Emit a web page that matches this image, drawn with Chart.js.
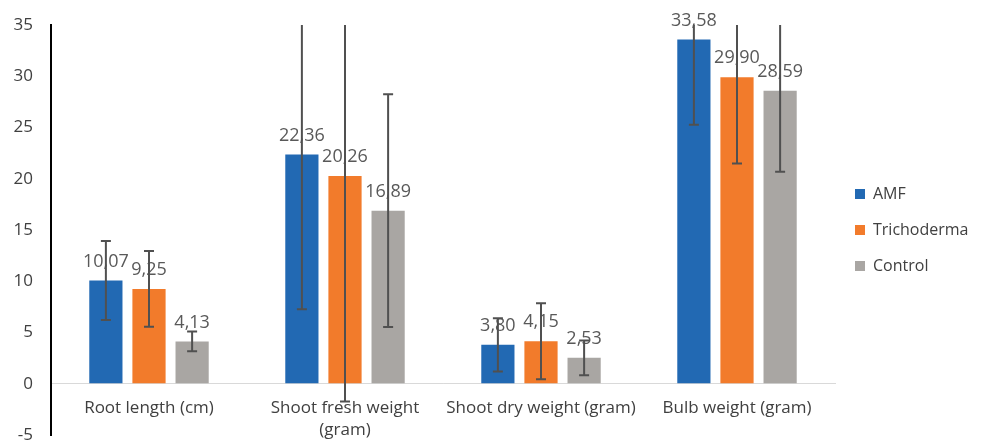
<!DOCTYPE html>
<html>
<head>
<meta charset="utf-8">
<script src="https://cdn.jsdelivr.net/npm/chart.js@4.4.1/dist/chart.umd.min.js"></script>
<style>
  html, body { margin: 0; padding: 0; background: #fff; }
  #wrap { width: 981px; height: 443px; }
</style>
</head>
<body>
<div id="wrap"><canvas id="chart"></canvas></div>
<script>
// data
const categories = ['Root length (cm)', ['Shoot fresh weight', '(gram)'], 'Shoot dry weight (gram)', 'Bulb weight (gram)'];
const seriesNames = ['AMF', 'Trichoderma', 'Control'];
const amfValues = [10.07, 22.36, 3.80, 33.58];
const trichoValues = [9.25, 20.26, 4.15, 29.90];
const controlValues = [4.13, 16.89, 2.53, 28.59];
const amfErrors = [3.85, 15.1, 2.6, 8.3];
const trichoErrors = [3.7, 22.0, 3.7, 8.4];
const controlErrors = [0.97, 11.35, 1.7, 7.9];
const yTicks = [-5, 0, 5, 10, 15, 20, 25, 30, 35];

const colors = { amf: '#2269b3', tricho: '#f27b2b', control: '#a9a6a3', text: '#404040', label: '#595959', err: '#505050' };
const FONT = "'Open Sans', sans-serif";

Chart.defaults.font.family = FONT;
Chart.defaults.font.size = 16;
Chart.defaults.color = colors.text;

const errorSets = [amfErrors, trichoErrors, controlErrors];

// labels above bars plus the error bars, drawn from the data arrays
const barExtras = {
  id: 'barExtras',
  beforeInit(chart) {
    // fixed legend width so the plot ends where the original does
    const lg = chart.legend;
    if (lg) {
      const fit = lg.fit;
      lg.fit = function () { fit.call(this); this.width = 146; };
    }
  },
  afterDatasetsDraw(chart) {
    const ctx = chart.ctx;
    const yScale = chart.scales.y;
    const area = chart.chartArea;

    ctx.save();
    ctx.font = '18px ' + FONT;
    ctx.fillStyle = colors.label;
    ctx.textAlign = 'center';
    ctx.textBaseline = 'middle';
    chart.data.datasets.forEach((ds, i) => {
      chart.getDatasetMeta(i).data.forEach((bar, j) => {
        const txt = ds.data[j].toFixed(2).replace('.', ',');
        ctx.fillText(txt, bar.x, bar.y - 19);
      });
    });
    ctx.restore();

    ctx.save();
    ctx.beginPath();
    ctx.rect(area.left, area.top, area.right - area.left, area.bottom - area.top);
    ctx.clip();
    ctx.strokeStyle = colors.err;
    ctx.lineWidth = 2;
    chart.data.datasets.forEach((ds, i) => {
      chart.getDatasetMeta(i).data.forEach((bar, j) => {
        const v = ds.data[j], e = errorSets[i][j];
        const top = yScale.getPixelForValue(v + e);
        const bot = yScale.getPixelForValue(v - e);
        ctx.beginPath();
        ctx.moveTo(bar.x, top); ctx.lineTo(bar.x, bot);
        ctx.moveTo(bar.x - 5, top); ctx.lineTo(bar.x + 5, top);
        ctx.moveTo(bar.x - 5, bot); ctx.lineTo(bar.x + 5, bot);
        ctx.stroke();
      });
    });
    ctx.restore();
  }
};

new Chart(document.getElementById('chart'), {
  type: 'bar',
  data: {
    labels: categories,
    datasets: [
      { label: seriesNames[0], data: amfValues, backgroundColor: colors.amf },
      { label: seriesNames[1], data: trichoValues, backgroundColor: colors.tricho },
      { label: seriesNames[2], data: controlValues, backgroundColor: colors.control }
    ]
  },
  options: {
    responsive: true,
    maintainAspectRatio: false,
    animation: false,
    categoryPercentage: 0.66,
    barPercentage: 0.77,
    layout: { padding: { top: 25, right: 0, bottom: 8, left: 0 } },
    plugins: {
      legend: {
        position: 'right',
        labels: { boxWidth: 10, boxHeight: 10, padding: 20, color: colors.text, font: { size: 16 } }
      },
      tooltip: { enabled: false }
    },
    scales: {
      x: {
        position: { y: 0 },
        afterFit(scale) { scale.paddingTop = 0; scale.paddingBottom = 0; scale.paddingLeft = 0; scale.paddingRight = 0; },
        grid: { display: false, drawTicks: false },
        border: { display: true, color: '#d9d9d9', width: 1 },
        ticks: { padding: 13, color: colors.text, maxRotation: 0, autoSkip: false, font: { size: 17, lineHeight: 1.3 } }
      },
      y: {
        min: -5,
        max: 35,
        afterBuildTicks(scale) { scale.ticks = yTicks.map(v => ({ value: v })); },
        afterFit(scale) { scale.width = 51; scale.paddingTop = 0; scale.paddingBottom = 0; },
        grid: {
          drawTicks: false,
          color: ctx => (ctx.tick && ctx.tick.value === 0 ? '#d9d9d9' : 'rgba(0,0,0,0)')
        },
        border: { display: true, color: '#000', width: 2 },
        ticks: { padding: 18, color: colors.text, font: { size: 17 } }
      }
    }
  },
  plugins: [barExtras]
});
</script>
</body>
</html>
